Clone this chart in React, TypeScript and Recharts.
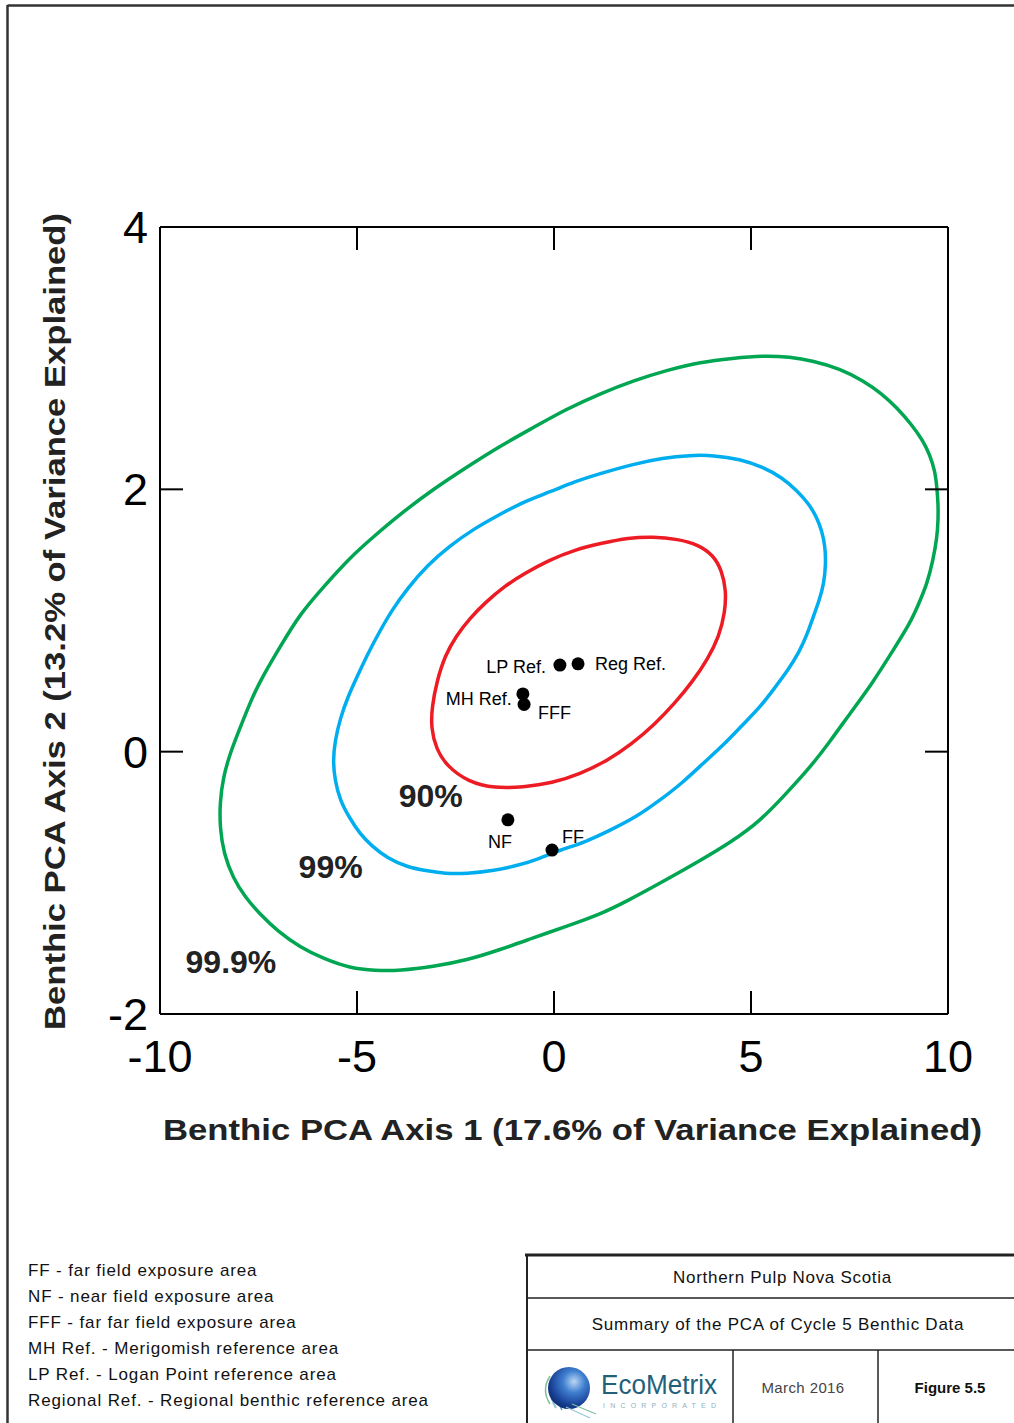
import React from 'react';
import { ComposedChart, Line, Scatter, XAxis, YAxis, Label } from 'recharts';

const FONT = 'Arial, "Liberation Sans", Helvetica, sans-serif';

const xTicks = [-10, -5, 0, 5, 10];
const yTicks = [-2, 0, 2, 4];

const X_TITLE = 'Benthic PCA Axis 1 (17.6% of Variance Explained)';
const Y_TITLE = 'Benthic PCA Axis 2 (13.2% of Variance Explained)';

// 90% confidence ellipse (red)
const ellipse90 = [
  { x: 2.51, y: 1.64 }, { x: 3.15, y: 1.62 }, { x: 3.65, y: 1.58 }, { x: 4.04, y: 1.5 },
  { x: 4.26, y: 1.38 }, { x: 4.37, y: 1.23 }, { x: 4.34, y: 1.06 }, { x: 4.19, y: 0.88 },
  { x: 3.91, y: 0.71 }, { x: 3.53, y: 0.54 }, { x: 3.07, y: 0.37 }, { x: 2.56, y: 0.21 },
  { x: 1.98, y: 0.06 }, { x: 1.35, y: -0.07 }, { x: 0.66, y: -0.17 }, { x: -0.05, y: -0.24 },
  { x: -0.79, y: -0.27 }, { x: -1.5, y: -0.28 }, { x: -2.18, y: -0.23 }, { x: -2.72, y: -0.11 },
  { x: -2.99, y: 0.02 }, { x: -3.12, y: 0.18 }, { x: -3.1, y: 0.34 }, { x: -2.97, y: 0.54 },
  { x: -2.77, y: 0.73 }, { x: -2.49, y: 0.88 }, { x: -2.13, y: 1.02 }, { x: -1.73, y: 1.14 },
  { x: -1.27, y: 1.26 }, { x: -0.74, y: 1.36 }, { x: -0.13, y: 1.46 }, { x: 0.53, y: 1.54 },
  { x: 1.22, y: 1.59 }, { x: 1.88, y: 1.63 },
];

// 99% confidence ellipse (blue)
const ellipse99 = [
  { x: 4.04, y: 2.26 }, { x: 4.72, y: 2.23 }, { x: 5.3, y: 2.17 }, { x: 5.79, y: 2.09 },
  { x: 6.17, y: 1.99 }, { x: 6.47, y: 1.89 }, { x: 6.68, y: 1.78 }, { x: 6.8, y: 1.68 },
  { x: 6.88, y: 1.57 }, { x: 6.9, y: 1.43 }, { x: 6.85, y: 1.28 }, { x: 6.73, y: 1.15 },
  { x: 6.57, y: 1.02 }, { x: 6.42, y: 0.89 }, { x: 6.24, y: 0.77 }, { x: 5.94, y: 0.62 },
  { x: 5.56, y: 0.47 }, { x: 5.23, y: 0.34 }, { x: 4.9, y: 0.24 }, { x: 4.37, y: 0.07 },
  { x: 3.78, y: -0.09 }, { x: 3.25, y: -0.24 }, { x: 2.69, y: -0.37 }, { x: 2.08, y: -0.5 },
  { x: 1.42, y: -0.6 }, { x: 0.79, y: -0.69 }, { x: 0.15, y: -0.75 }, { x: -0.41, y: -0.82 },
  { x: -0.94, y: -0.87 }, { x: -1.57, y: -0.91 }, { x: -2.21, y: -0.93 }, { x: -2.77, y: -0.93 },
  { x: -3.2, y: -0.91 }, { x: -3.73, y: -0.88 }, { x: -4.24, y: -0.81 }, { x: -4.62, y: -0.72 },
  { x: -4.92, y: -0.63 }, { x: -5.2, y: -0.5 }, { x: -5.43, y: -0.37 }, { x: -5.56, y: -0.22 },
  { x: -5.61, y: -0.07 }, { x: -5.56, y: 0.08 }, { x: -5.43, y: 0.25 }, { x: -5.23, y: 0.42 },
  { x: -5.0, y: 0.57 }, { x: -4.72, y: 0.75 }, { x: -4.42, y: 0.92 }, { x: -4.09, y: 1.09 },
  { x: -3.73, y: 1.24 }, { x: -3.22, y: 1.42 }, { x: -2.64, y: 1.57 }, { x: -2.03, y: 1.7 },
  { x: -1.37, y: 1.81 }, { x: -0.74, y: 1.91 }, { x: -0.1, y: 1.98 }, { x: 0.53, y: 2.06 },
  { x: 1.17, y: 2.12 }, { x: 1.98, y: 2.19 }, { x: 2.77, y: 2.24 }, { x: 3.45, y: 2.26 },
];

// 99.9% confidence ellipse (green)
const ellipse999 = [
  { x: 5.3, y: 3.02 }, { x: 5.99, y: 3.01 }, { x: 6.57, y: 2.98 }, { x: 7.26, y: 2.92 },
  { x: 7.84, y: 2.83 }, { x: 8.32, y: 2.73 }, { x: 8.71, y: 2.62 }, { x: 9.06, y: 2.5 },
  { x: 9.37, y: 2.37 }, { x: 9.54, y: 2.26 }, { x: 9.67, y: 2.14 }, { x: 9.72, y: 2.01 },
  { x: 9.75, y: 1.89 }, { x: 9.75, y: 1.76 }, { x: 9.72, y: 1.63 }, { x: 9.62, y: 1.46 },
  { x: 9.47, y: 1.28 }, { x: 9.26, y: 1.13 }, { x: 9.04, y: 0.98 }, { x: 8.6, y: 0.77 },
  { x: 8.1, y: 0.53 }, { x: 7.51, y: 0.29 }, { x: 7.01, y: 0.08 }, { x: 6.5, y: -0.12 },
  { x: 5.89, y: -0.32 }, { x: 5.23, y: -0.53 }, { x: 4.49, y: -0.69 }, { x: 3.71, y: -0.83 },
  { x: 2.77, y: -0.99 }, { x: 1.85, y: -1.14 }, { x: 1.17, y: -1.24 }, { x: 0.33, y: -1.33 },
  { x: -0.53, y: -1.42 }, { x: -1.37, y: -1.51 }, { x: -2.21, y: -1.59 }, { x: -3.07, y: -1.64 },
  { x: -3.91, y: -1.67 }, { x: -4.54, y: -1.67 }, { x: -5.18, y: -1.65 }, { x: -5.84, y: -1.58 },
  { x: -6.45, y: -1.49 }, { x: -7.01, y: -1.37 }, { x: -7.46, y: -1.24 }, { x: -7.84, y: -1.11 },
  { x: -8.15, y: -0.96 }, { x: -8.38, y: -0.78 }, { x: -8.48, y: -0.58 }, { x: -8.48, y: -0.39 },
  { x: -8.4, y: -0.2 }, { x: -8.22, y: -0.01 }, { x: -7.97, y: 0.18 }, { x: -7.72, y: 0.37 },
  { x: -7.46, y: 0.54 }, { x: -6.95, y: 0.8 }, { x: -6.45, y: 1.05 }, { x: -5.81, y: 1.27 },
  { x: -5.18, y: 1.48 }, { x: -4.54, y: 1.65 }, { x: -3.91, y: 1.81 }, { x: -3.07, y: 2.0 },
  { x: -2.21, y: 2.17 }, { x: -1.37, y: 2.33 }, { x: -0.53, y: 2.47 }, { x: 0.3, y: 2.61 },
  { x: 1.17, y: 2.73 }, { x: 2.03, y: 2.83 }, { x: 2.89, y: 2.91 }, { x: 3.71, y: 2.97 },
  { x: 4.54, y: 3.0 },
];

const sites = [
  { name: 'LP Ref.', x: 0.15, y: 0.66 },
  { name: 'Reg Ref.', x: 0.61, y: 0.67 },
  { name: 'MH Ref.', x: -0.79, y: 0.44 },
  { name: 'FFF', x: -0.76, y: 0.36 },
  { name: 'NF', x: -1.17, y: -0.52 },
  { name: 'FF', x: -0.05, y: -0.75 },
];

const confidenceLabels = [
  { name: '90%', x: -3.13, y: -0.42 },
  { name: '99%', x: -5.67, y: -0.96 },
  { name: '99.9%', x: -8.2, y: -1.69 },
];

const legendLines = [
  'FF - far field exposure area',
  'NF - near field exposure area',
  'FFF - far far field exposure area',
  'MH Ref. - Merigomish reference area',
  'LP Ref. - Logan Point reference area',
  'Regional Ref. - Regional benthic reference area',
];

const PLACEMENT: Record<string, { dx: number; dy: number; anchor: string }> = {
  'LP Ref.': { dx: -14, dy: 8, anchor: 'end' },
  'Reg Ref.': { dx: 17, dy: 6, anchor: 'start' },
  'MH Ref.': { dx: -11, dy: 11, anchor: 'end' },
  FFF: { dx: 14, dy: 15, anchor: 'start' },
  NF: { dx: -8, dy: 28, anchor: 'middle' },
  FF: { dx: 10, dy: -7, anchor: 'start' },
};

const SiteShape = (props: any) => {
  const { cx, cy, payload } = props;
  const p = PLACEMENT[payload.name];
  return (
    <g>
      <circle cx={cx} cy={cy} r={6.5} fill="#000" />
      <text x={cx + p.dx} y={cy + p.dy} textAnchor={p.anchor} fontSize={18} fontFamily={FONT} fill="#000">
        {payload.name}
      </text>
    </g>
  );
};

const PercentShape = (props: any) => {
  const { cx, cy, payload } = props;
  return (
    <text x={cx} y={cy} textAnchor="middle" fontSize={32} fontWeight="bold" fontFamily={FONT} fill="#222">
      {payload.name}
    </text>
  );
};

const EmptyShape = () => <g />;

const XTitle = (props: any) => {
  const vb = props.viewBox || { x: 160, y: 1014, width: 788, height: 60 };
  return (
    <text
      x={vb.x + vb.width / 2 + 18.5}
      y={vb.y + 126}
      textAnchor="middle"
      fontSize={30}
      fontWeight="bold"
      fontFamily={FONT}
      fill="#222"
      textLength={819}
      lengthAdjust="spacingAndGlyphs"
    >
      {X_TITLE}
    </text>
  );
};

const YTitle = (props: any) => {
  const vb = props.viewBox || { x: 100, y: 227, width: 60, height: 787 };
  const x = vb.x - 35;
  const y = vb.y + vb.height / 2 + 1;
  return (
    <text
      x={x}
      y={y}
      transform={`rotate(-90, ${x}, ${y})`}
      textAnchor="middle"
      fontSize={30}
      fontWeight="bold"
      fontFamily={FONT}
      fill="#222"
      textLength={817}
      lengthAdjust="spacingAndGlyphs"
    >
      {Y_TITLE}
    </text>
  );
};

const axisLine = { stroke: '#000', strokeWidth: 2 };
const tickLine = { stroke: '#000', strokeWidth: 2 };
const tickStyle = { fill: '#000', fontSize: 45, fontFamily: FONT };
const blank = () => '';

const Frame = () => (
  <svg width={1014} height={1423} style={{ position: 'absolute', left: 0, top: 0 }}>
    <line x1={7.5} y1={5.5} x2={1014} y2={5.5} stroke="#333" strokeWidth={2.5} />
    <line x1={7.5} y1={5} x2={7.5} y2={1423} stroke="#333" strokeWidth={2.5} />
    {legendLines.map((t, i) => (
      <text key={t} x={28} y={1276 + i * 26} fontSize={17} letterSpacing={0.87} fontFamily={FONT} fill="#111">
        {t}
      </text>
    ))}
    {/* title block */}
    <line x1={525} y1={1255} x2={1014} y2={1255} stroke="#222" strokeWidth={3} />
    <line x1={527} y1={1254} x2={527} y2={1423} stroke="#222" strokeWidth={2} />
    <line x1={527} y1={1298} x2={1014} y2={1298} stroke="#222" strokeWidth={1.5} />
    <line x1={527} y1={1350} x2={1014} y2={1350} stroke="#222" strokeWidth={1.5} />
    <line x1={733} y1={1350} x2={733} y2={1423} stroke="#222" strokeWidth={1.5} />
    <line x1={878} y1={1350} x2={878} y2={1423} stroke="#222" strokeWidth={1.5} />
    <text x={782.5} y={1283} textAnchor="middle" fontSize={17} letterSpacing={0.7} fontFamily={FONT} fill="#111">
      Northern Pulp Nova Scotia
    </text>
    <text x={778} y={1330} textAnchor="middle" fontSize={17} letterSpacing={0.75} fontFamily={FONT} fill="#111">
      Summary of the PCA of Cycle 5 Benthic Data
    </text>
    <text x={803} y={1393} textAnchor="middle" fontSize={15} letterSpacing={0.4} fontFamily={FONT} fill="#444">
      March 2016
    </text>
    <text x={950} y={1393} textAnchor="middle" fontSize={15} fontWeight="bold" fontFamily={FONT} fill="#111">
      Figure 5.5
    </text>
    {/* logo */}
    <defs>
      <radialGradient id="sph" cx="0.62" cy="0.35" r="0.75">
        <stop offset="0" stopColor="#bcd6f2" />
        <stop offset="0.35" stopColor="#3f7fd0" />
        <stop offset="0.75" stopColor="#173f94" />
        <stop offset="1" stopColor="#0c2360" />
      </radialGradient>
    </defs>
    <path d="M556 1372 Q545 1390 556 1408" stroke="#8fc7d9" strokeWidth={2} fill="none" />
    <path d="M550 1376 Q541 1390 550 1404" stroke="#7fbf9a" strokeWidth={1.5} fill="none" />
    <path d="M562 1370 Q550 1390 562 1410" stroke="#5a9bd6" strokeWidth={1.5} fill="none" />
    <circle cx={569} cy={1388} r={21} fill="url(#sph)" />
    <path d="M572 1404 L596 1414" stroke="#7fbfa0" strokeWidth={1.2} />
    <path d="M566 1407 L590 1418" stroke="#8fc7d9" strokeWidth={1.2} />
    <text x={601} y={1394} fontSize={27} fontFamily={FONT} fill="#23607a" textLength={116} lengthAdjust="spacingAndGlyphs">
      EcoMetrix
    </text>
    <text x={603} y={1408} fontSize={7} fontFamily={FONT} fill="#8fb0bc" textLength={113} lengthAdjust="spacing">
      INCORPORATED
    </text>
  </svg>
);

export default function App() {
  return (
    <div
      style={{
        position: 'absolute',
        left: 0,
        top: 0,
        width: 1014,
        height: 1423,
        background: '#fff',
        fontFamily: FONT,
        overflow: 'hidden',
      }}
    >
      <Frame />
      <div style={{ position: 'absolute', left: 0, top: 0 }}>
        <ComposedChart width={1014} height={1200} margin={{ top: 226, right: 65, left: 100, bottom: 126 }}>
          <XAxis
            type="number"
            dataKey="x"
            domain={[-10, 10]}
            ticks={xTicks}
            allowDataOverflow
            interval={0}
            height={60}
            axisLine={axisLine}
            tickLine={tickLine}
            tickSize={-23}
            tickMargin={49}
            tick={tickStyle}
          >
            <Label content={XTitle} />
          </XAxis>
          <XAxis
            xAxisId="top"
            orientation="top"
            type="number"
            dataKey="x"
            domain={[-10, 10]}
            ticks={xTicks}
            allowDataOverflow
            interval={0}
            height={1}
            axisLine={axisLine}
            tickLine={tickLine}
            tickSize={-23}
            tickFormatter={blank}
          />
          <YAxis
            type="number"
            dataKey="y"
            domain={[-2, 4]}
            ticks={yTicks}
            allowDataOverflow
            interval={0}
            width={60}
            axisLine={axisLine}
            tickLine={tickLine}
            tickSize={-23}
            tickMargin={35}
            tick={tickStyle}
          >
            <Label content={YTitle} />
          </YAxis>
          <YAxis
            yAxisId="right"
            orientation="right"
            type="number"
            dataKey="y"
            domain={[-2, 4]}
            ticks={yTicks}
            allowDataOverflow
            interval={0}
            width={1}
            axisLine={axisLine}
            tickLine={tickLine}
            tickSize={-23}
            tickFormatter={blank}
          />
          <Line
            data={ellipse999}
            dataKey="y"
            type="basisClosed"
            stroke="#00A651"
            strokeWidth={3.5}
            dot={false}
            activeDot={false}
            isAnimationActive={false}
          />
          <Line
            data={ellipse99}
            dataKey="y"
            type="basisClosed"
            stroke="#00AEEF"
            strokeWidth={3.5}
            dot={false}
            activeDot={false}
            isAnimationActive={false}
          />
          <Line
            data={ellipse90}
            dataKey="y"
            type="basisClosed"
            stroke="#ED1C24"
            strokeWidth={3.5}
            dot={false}
            activeDot={false}
            isAnimationActive={false}
          />
          <Scatter data={confidenceLabels} dataKey="y" shape={PercentShape} isAnimationActive={false} />
          <Scatter data={sites} dataKey="y" shape={SiteShape} isAnimationActive={false} />
          <Scatter
            xAxisId="top"
            yAxisId="right"
            data={sites}
            dataKey="y"
            shape={EmptyShape}
            legendType="none"
            isAnimationActive={false}
          />
        </ComposedChart>
      </div>
    </div>
  );
}
